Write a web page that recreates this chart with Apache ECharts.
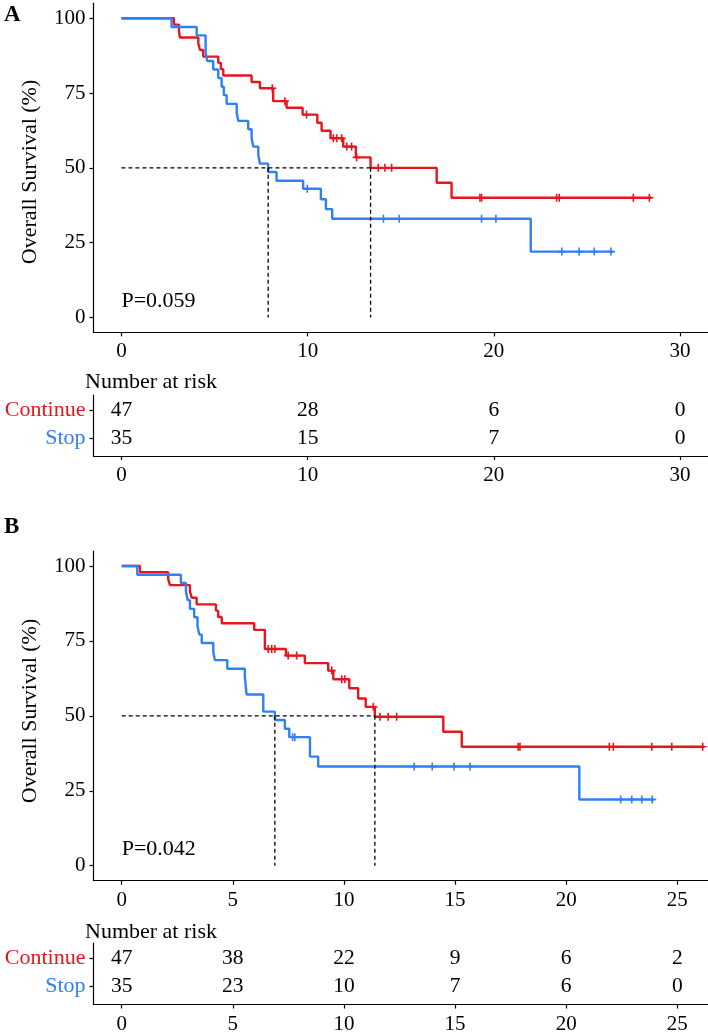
<!DOCTYPE html>
<html><head><meta charset="utf-8">
<script src="https://cdn.jsdelivr.net/npm/echarts@6/dist/echarts.min.js"></script>
<style>html,body{margin:0;padding:0;background:#fff}#c{width:708px;height:1035px}</style>
</head><body><div id="c"></div>
<script>
// ---------- Panel A data ----------
const aRedTimes = [2.82,3.09,3.14,4.13,4.22,4.39,5.2,5.34,5.47,6.99,7.44,8.15,8.87,9.73,10.52,10.75,11.23,11.91,12.59,13.38,16.93,17.73];
const aRedSurv  = [97.9,95.7,93.6,91.5,89.4,87.2,85.1,83.0,80.9,78.7,76.6,72.3,70.1,67.8,65.1,62.4,59.9,57.1,53.5,50.0,45.0,40.0];
const aRedCens  = [8.1,8.78,9.94,11.38,11.56,11.83,12.1,12.36,12.63,13.79,14.15,14.51,19.25,19.34,23.37,23.51,27.49,28.35];
const aRedEnd = 28.47;
const aBlueTimes = [2.69,4.04,4.52,4.61,4.93,5.2,5.38,5.5,5.65,6.19,6.27,6.81,6.99,7.08,7.35,7.44,7.88,8.33,9.76,10.71,10.98,11.32,21.98];
const aBlueSurv  = [97.1,94.3,88.6,85.7,82.9,80.0,77.1,74.3,71.4,68.6,65.7,62.9,60.0,57.1,54.3,51.4,48.6,45.7,43.0,39.5,36.2,33.0,22.0];
const aBlueCens  = [9.98,14.07,14.92,19.34,20.11,23.65,24.58,25.39,26.29];
const aBlueEnd = 26.43;
const aMedians = [7.88, 13.38];
const aTicks = [0,10,20,30];
const aRiskCont = [47,28,6,0];
const aRiskStop = [35,15,7,0];
const aP = 'P=0.059';

// ---------- Panel B data ----------
const bRedTimes = [0.82,2.09,2.17,3.07,3.15,3.37,4.24,4.34,4.5,5.96,6.44,7.39,8.24,9.29,9.52,10.24,10.64,10.98,11.39,14.47,15.3];
const bRedSurv  = [97.9,95.7,93.6,91.5,89.4,87.2,85.1,83.0,80.9,78.7,72.3,70.1,67.6,65.1,62.2,59.2,55.8,53.0,49.7,44.7,39.7];
const bRedCens  = [6.59,6.75,6.89,7.49,7.87,9.45,9.9,10.04,11.32,11.62,11.99,12.37,17.84,17.92,21.94,22.12,23.85,24.75,26.14];
const bRedEnd = 26.2;
const bBlueTimes = [0.7,2.66,2.89,2.97,3.07,3.26,3.41,3.49,3.6,4.12,4.19,4.75,5.54,5.62,6.37,6.89,7.34,7.54,8.47,8.84,20.59];
const bBlueSurv  = [97.1,94.3,91.4,88.6,85.7,82.9,80.0,77.1,74.3,71.4,68.6,65.7,62.9,57.1,51.4,48.6,45.7,42.9,36.4,33.1,22.1];
const bBlueCens  = [7.69,7.79,13.16,13.97,14.95,15.67,22.45,22.95,23.4,23.87];
const bBlueEnd = 23.96;
const bMedians = [6.89, 11.39];
const bTicks = [0,5,10,15,20,25];
const bRiskCont = [47,38,22,9,6,2];
const bRiskStop = [35,23,10,7,6,0];
const bP = 'P=0.042';

const yTicks = [0,25,50,75,100];
const groups = ['Continue','Stop'];

// ---------- styling ----------
const RED = '#E8161C', BLUE = '#2F80F5';
const FONT = "'Liberation Serif','Times New Roman',serif";
const TXT = '#000';
const PLUS = 'path://M4,0h2v10h-2z M0,4h10v2h-10z';

function steps(times, surv, end){
  const d=[[0,100]];
  for(let i=0;i<times.length;i++) d.push([times[i],surv[i]]);
  d.push([end, surv[surv.length-1]]);
  return d;
}
function survAt(times, surv, t){
  let s=100;
  for(let i=0;i<times.length;i++) if(times[i]<=t) s=surv[i];
  return s;
}
function cens(times, surv, ct){ return ct.map(t=>[t, survAt(times,surv,t)]); }

const axisLine = {show:true, lineStyle:{color:'#000', width:1.2}};
const axisTick = {show:true, length:4, lineStyle:{color:'#000', width:1.2}};

function xAx(grid, min, max, ticks){
  return {type:'value', gridIndex:grid, min:min, max:max,
    axisLine:{...axisLine, onZero:false}, axisTick:{...axisTick, customValues:ticks},
    axisLabel:{customValues:ticks, margin:9, fontSize:21, fontFamily:FONT, color:TXT},
    splitLine:{show:false}};
}
function yAx(grid){
  return {type:'value', gridIndex:grid, min:-5, max:105,
    axisLine:{...axisLine, onZero:false}, axisTick:{...axisTick, customValues:yTicks},
    axisLabel:{customValues:yTicks, margin:8, fontSize:21, fontFamily:FONT, color:TXT},
    splitLine:{show:false}};
}
function yTab(grid){
  return {type:'value', gridIndex:grid, min:0.357, max:2.536,
    axisLine:{...axisLine, onZero:false}, axisTick:{...axisTick, customValues:[1,2]},
    axisLabel:{customValues:[1,2], margin:8, fontSize:22, fontFamily:FONT,
      formatter:v=> v===2 ? '{r|'+groups[0]+'}' : '{b|'+groups[1]+'}',
      rich:{r:{color:RED,fontSize:22,fontFamily:FONT}, b:{color:BLUE,fontSize:22,fontFamily:FONT}}},
    splitLine:{show:false}};
}

function panelSeries(xi, yi, tri, d){
  const s=[];
  s.push({type:'line', xAxisIndex:xi, yAxisIndex:yi, data:steps(d.rt,d.rs,d.re), step:'end', symbol:'none',
    lineStyle:{color:RED,width:2.4}, z:3});
  s.push({type:'line', xAxisIndex:xi, yAxisIndex:yi, data:steps(d.bt,d.bs,d.be), step:'end', symbol:'none',
    lineStyle:{color:BLUE,width:2.4}, z:3});
  s.push({type:'scatter', xAxisIndex:xi, yAxisIndex:yi, data:cens(d.rt,d.rs,d.rc), symbol:PLUS, symbolSize:8,
    itemStyle:{color:RED, opacity:1}, z:4});
  s.push({type:'scatter', xAxisIndex:xi, yAxisIndex:yi, data:cens(d.bt,d.bs,d.bc), symbol:PLUS, symbolSize:8,
    itemStyle:{color:BLUE, opacity:1}, z:4});
  const dash={color:'#000', width:1.3, type:[4,3]};
  const mMax=Math.max(...d.med);
  s.push({type:'line', xAxisIndex:xi, yAxisIndex:yi, data:[[0,50],[mMax,50]], symbol:'none', lineStyle:dash, z:5});
  d.med.forEach(m=>{
    s.push({type:'line', xAxisIndex:xi, yAxisIndex:yi, data:[[m,50],[m,0]], symbol:'none', lineStyle:dash, z:5});
  });
  s.push({type:'scatter', xAxisIndex:xi, yAxisIndex:yi, data:[[0,5.4]], symbolSize:0, itemStyle:{opacity:1},
    label:{show:true, formatter:d.p, position:'inside', align:'left', verticalAlign:'middle',
      fontSize:22, fontFamily:FONT, color:TXT, opacity:1}});
  // risk table
  const rows=[];
  d.ticks.forEach((t,i)=>{ rows.push([t,2,d.rc2[i]]); rows.push([t,1,d.rsk[i]]); });
  s.push({type:'scatter', xAxisIndex:tri, yAxisIndex:tri, data:rows, symbolSize:0, itemStyle:{opacity:1},
    label:{show:true, formatter:p=>String(p.value[2]), position:'inside', align:'center', verticalAlign:'middle',
      fontSize:21.5, fontFamily:FONT, color:TXT, opacity:1}});
  return s;
}

const A={rt:aRedTimes,rs:aRedSurv,re:aRedEnd,rc:aRedCens,bt:aBlueTimes,bs:aBlueSurv,be:aBlueEnd,bc:aBlueCens,
  med:aMedians,p:aP,ticks:aTicks,rc2:aRiskCont,rsk:aRiskStop};
const B={rt:bRedTimes,rs:bRedSurv,re:bRedEnd,rc:bRedCens,bt:bBlueTimes,bs:bBlueSurv,be:bBlueEnd,bc:bBlueCens,
  med:bMedians,p:bP,ticks:bTicks,rc2:bRiskCont,rsk:bRiskStop};

const chart = echarts.init(document.getElementById('c'), null, {renderer:'canvas'});
const txt = (x,y,text,extra)=>({type:'text', x:x, y:y, style:Object.assign({text:text, fill:TXT, font:'22px '+FONT,
  textAlign:'left', textVerticalAlign:'middle'}, extra||{})});
chart.setOption({
  animation:false,
  backgroundColor:'#fff',
  grid:[
    {left:93.5, right:0, top:3.35, height:329},
    {left:93.5, right:0, top:395, height:61},
    {left:93.5, right:0, top:551, height:329.7},
    {left:93.5, right:0, top:943, height:61.5}
  ],
  xAxis:[ xAx(0,-1.5,31.5,aTicks), xAx(1,-1.5,31.5,aTicks), xAx(2,-1.27,26.38,bTicks), xAx(3,-1.27,26.38,bTicks) ],
  yAxis:[ yAx(0), yTab(1), yAx(2), yTab(3) ],
  series:[...panelSeries(0,0,1,A), ...panelSeries(2,2,3,B)],
  graphic:[
    txt(4,15,'A',{font:'bold 23px '+FONT, fill:'#000'}),
    txt(4,527,'B',{font:'bold 23px '+FONT, fill:'#000'}),
    txt(30,172,'Overall Survival (%)',{textAlign:'center'}),
    txt(30,711,'Overall Survival (%)',{textAlign:'center'}),
    txt(85,382,'Number at risk'),
    txt(85,932,'Number at risk')
  ].map((g,i)=> (i===2||i===3) ? Object.assign(g,{rotation:Math.PI/2}) : g)
});
</script></body></html>
